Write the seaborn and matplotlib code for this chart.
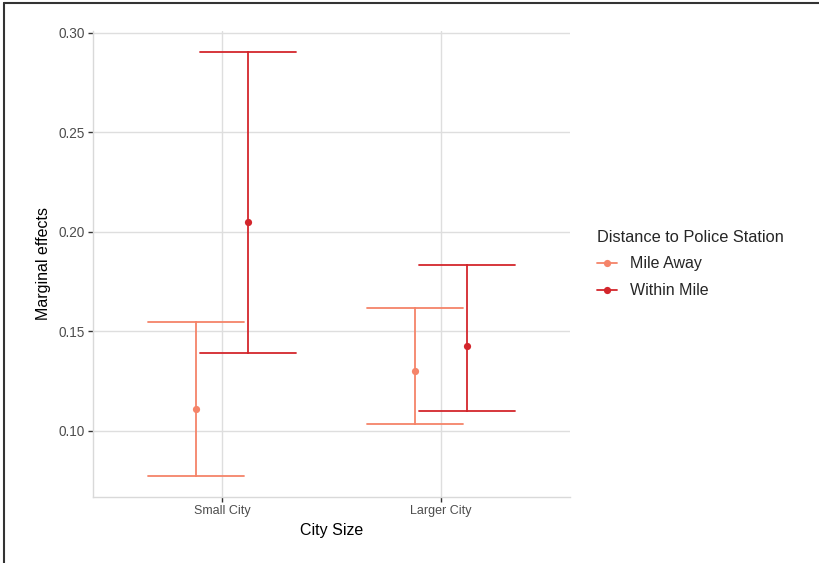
import numpy as np
import pandas as pd
import seaborn as sns
import matplotlib
matplotlib.use("Agg")
import matplotlib.pyplot as plt
from matplotlib.lines import Line2D

# ---- data ----
city_sizes = ["Small City", "Larger City"]
distances = ["Mile Away", "Within Mile"]
estimates = {"Mile Away": [0.111, 0.130], "Within Mile": [0.2048, 0.1426]}
lower = {"Mile Away": [0.0775, 0.1035], "Within Mile": [0.139, 0.110]}
upper = {"Mile Away": [0.155, 0.162], "Within Mile": [0.2905, 0.1832]}
colors = {"Mile Away": "#f58469", "Within Mile": "#d3262c"}

rows = []
for d in distances:
    for i, c in enumerate(city_sizes):
        for v in (lower[d][i], estimates[d][i], upper[d][i]):
            rows.append({"City Size": c, "Distance": d, "value": v})
df = pd.DataFrame(rows)

sns.set_theme(style="white")
plt.rcParams["font.family"] = ["Liberation Sans", "DejaVu Sans"]

fig = plt.figure(figsize=(8.19, 5.63), dpi=100)
ax = fig.add_axes([93 / 819, 1 - 497 / 563, (570 - 93) / 819, (497 - 30.6) / 563])

sns.pointplot(data=df, x="City Size", y="value", hue="Distance",
              order=city_sizes, hue_order=distances, palette=colors,
              estimator=np.median, errorbar=("pi", 100), dodge=0.238,
              capsize=0.44, linestyle="none", markers="o",
              markersize=5.2, markeredgewidth=0, err_kws={"linewidth": 1.3},
              legend=False, ax=ax)

ax.set_xlim(-0.589, 1.589)
ax.set_ylim(0.0668, 0.3012)
ax.set_yticks([0.10, 0.15, 0.20, 0.25, 0.30])
ax.set_yticklabels(["0.10", "0.15", "0.20", "0.25", "0.30"])
ax.grid(True, color="#dedede", linewidth=1.0)
ax.set_axisbelow(True)
for s in ["top", "right"]:
    ax.spines[s].set_visible(False)
for s in ["left", "bottom"]:
    ax.spines[s].set_color("#d9d9d9")
    ax.spines[s].set_linewidth(1.0)
ax.tick_params(axis="both", which="major", length=3.5, width=1.0, color="#333333",
               labelcolor="#4d4d4d", left=True, bottom=True, pad=2.5)
ax.tick_params(axis="y", labelsize=9.8)
ax.tick_params(axis="x", labelsize=9)
ax.set_xlabel("City Size", fontsize=11.5, color="black", labelpad=4)
ax.set_ylabel("Marginal effects", fontsize=11.5, color="black", labelpad=5)

handles = [Line2D([0], [0], color=colors[d], marker="o", markersize=5.2,
                  markeredgewidth=0, linewidth=1.3) for d in distances]
leg = fig.legend(handles, distances, title="Distance to Police Station",
                 loc="upper left", bbox_to_anchor=(583 / 819, 1 - 216 / 563),
                 frameon=False, fontsize=11.5, title_fontsize=11.8,
                 handlelength=1.25, handletextpad=0.8, labelspacing=0.75)
leg._legend_box.align = "left"
leg._legend_box.sep = 8

fig.add_artist(Line2D([0.005, 0.005], [0, 0.995], transform=fig.transFigure,
                      color="#333333", linewidth=1.5))
fig.add_artist(Line2D([0.005, 1.0], [0.995, 0.995], transform=fig.transFigure,
                      color="#333333", linewidth=1.5))

fig.savefig("out.png", dpi=100)
